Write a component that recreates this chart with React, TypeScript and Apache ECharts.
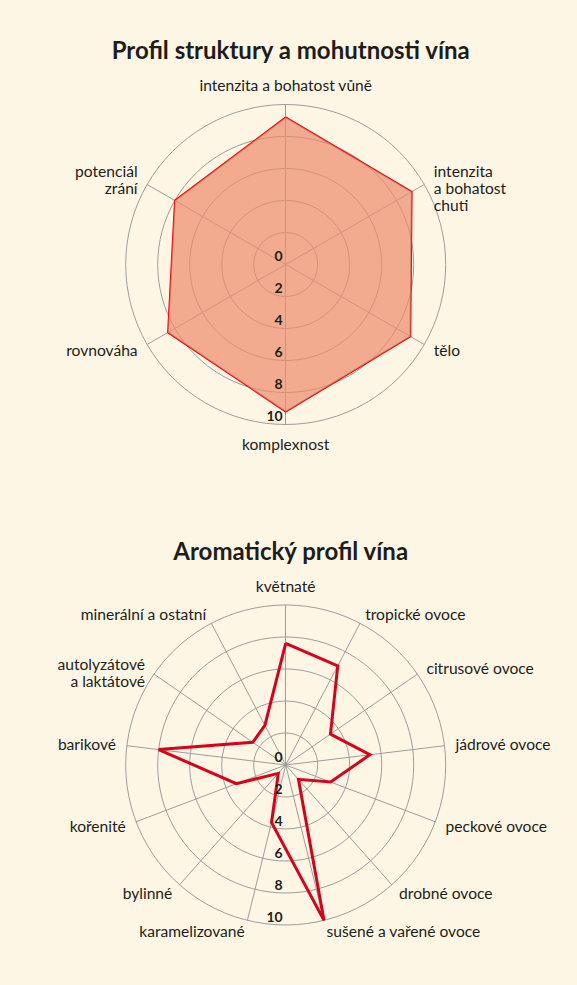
import { useEffect, useRef } from 'react';
import * as echarts from 'echarts';

// Profil struktury a mohutnosti vína (indicators counter-clockwise from the top)
const structureAxes = [
  'intenzita a bohatost vůně',
  'potenciál\nzrání',
  'rovnováha',
  'komplexnost',
  'tělo',
  'intenzita\na bohatost\nchuti',
];
const structureValues = [9.2, 8.0, 8.5, 9.2, 9.0, 9.1];

// Aromatický profil vína (counter-clockwise from the top)
const aromaAxes = [
  'květnaté',
  'minerální a ostatní',
  'autolyzátové\na laktátové',
  'barikové',
  'kořenité',
  'bylinné',
  'karamelizované',
  'sušené a vařené ovoce',
  'drobné ovoce',
  'peckové ovoce',
  'jádrové ovoce',
  'citrusové ovoce',
  'tropické ovoce',
];
const aromaValues = [7.6, 2.8, 2.5, 8.0, 3.3, 0.7, 3.7, 10, 1.2, 3.0, 5.3, 3.4, 7.0];

const scaleMax = 10;

const BG = '#fdf6e4';
const TEXT = '#1d1d1b';
const GRID = '#9d9d9d';
const FONT = 'Lato, "Noto Sans", sans-serif';

const CX = 285.7;
const CY_TOP = 264.5;
const CY_BOTTOM = 765;
const R = 160;

// one multi-line name per chart sits a little lower in the original
const mainRadar = (center: number[], names: string[], pushed: string, push: number) => ({
  center,
  radius: R,
  startAngle: 90,
  shape: 'circle',
  splitNumber: 5,
  nameGap: 11,
  indicator: names.map((name) => ({ name, min: 0, max: scaleMax })),
  axisName: {
    color: TEXT,
    fontFamily: FONT,
    fontSize: 15.6,
    lineHeight: 17,
    formatter: (name: string) => (name === pushed ? '{pad|}\n' + name : name),
    rich: { pad: { height: push, lineHeight: push } },
  },
  axisLine: { lineStyle: { color: GRID, width: 1 } },
  splitLine: { lineStyle: { color: GRID, width: 1 } },
  splitArea: { show: false },
  axisTick: { show: false },
  axisLabel: { show: false },
});

// hidden radar used only for the 0..10 scale running downwards
const scaleRadar = (center: number[]) => ({
  center,
  radius: R,
  startAngle: 90,
  shape: 'circle',
  splitNumber: 5,
  z: 10,
  indicator: [
    { name: '', min: 0, max: scaleMax },
    { name: '', min: 0, max: scaleMax, axisLabel: { show: true } },
  ],
  axisName: { show: false },
  axisLine: { show: false },
  splitLine: { show: false },
  splitArea: { show: false },
  axisTick: { show: false },
  axisLabel: {
    show: false,
    color: TEXT,
    fontFamily: FONT,
    fontWeight: 'bold',
    fontSize: 14,
    align: 'right',
    verticalAlign: 'bottom',
    margin: -3,
    padding: [0, 0, 2, 0],
  },
});

const ProfileCharts = () => {
  const ref = useRef<HTMLDivElement>(null);

  useEffect(() => {
    if (!ref.current) return;
    const chart = echarts.init(ref.current, null, { renderer: 'svg' });

    const titleStyle = { fontFamily: FONT, fontWeight: 'bold', fontSize: 24, color: TEXT };

    chart.setOption({
      backgroundColor: BG,
      animation: false,
      title: [
        { text: 'Profil struktury a mohutnosti vína', left: CX, top: 32, textAlign: 'center', textStyle: titleStyle },
        { text: 'Aromatický profil vína', left: CX, top: 533, textAlign: 'center', textStyle: titleStyle },
      ],
      radar: [
        mainRadar([CX, CY_TOP], structureAxes, 'intenzita\na bohatost\nchuti', 18),
        mainRadar([CX, CY_BOTTOM], aromaAxes, 'autolyzátové\na laktátové', 10),
        scaleRadar([CX, CY_TOP]),
        scaleRadar([CX, CY_BOTTOM]),
      ],
      series: [
        {
          type: 'radar',
          radarIndex: 0,
          symbol: 'none',
          silent: true,
          data: [{ value: structureValues }],
          lineStyle: { color: '#e30613', width: 1.7, join: 'miter' },
          areaStyle: { color: 'rgb(236,139,105)', opacity: 0.7 },
        },
        {
          type: 'radar',
          radarIndex: 1,
          symbol: 'none',
          silent: true,
          data: [{ value: aromaValues }],
          lineStyle: { color: '#d9001b', width: 3, join: 'miter' },
        },
      ],
    } as any);

    return () => {
      chart.dispose();
    };
  }, []);

  return <div ref={ref} style={{ width: '100%', height: '100%' }} />;
};

export default function App() {
  return (
    <div style={{ position: 'fixed', left: 0, top: 0, width: 577, height: 985, background: BG }}>
      <ProfileCharts />
    </div>
  );
}
